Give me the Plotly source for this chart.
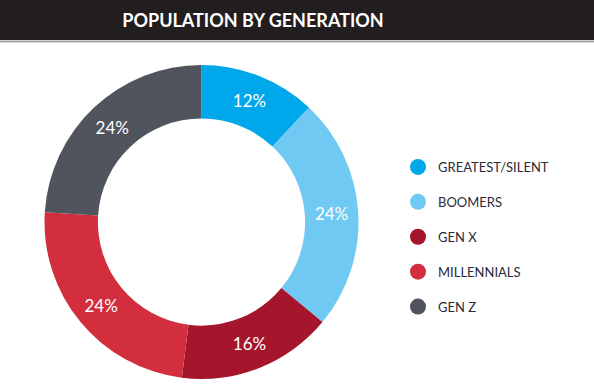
import plotly.graph_objects as go

labels = ["GREATEST/SILENT", "BOOMERS", "GEN X", "MILLENNIALS", "GEN Z"]
values = [12, 24, 16, 24, 24]
colors = ["#00a7ea", "#6fc9f3", "#a5152c", "#d22e3e", "#50545d"]
title_text = "POPULATION BY GENERATION"

W, H = 594, 384

fig = go.Figure()
fig.add_trace(go.Pie(
    labels=labels, values=values, sort=False, direction="clockwise", rotation=0,
    hole=0.66, marker=dict(colors=colors, line=dict(width=0)),
    texttemplate="%{value}%", textposition="inside", insidetextorientation="horizontal",
    insidetextfont=dict(color="white", size=17, family="Lato"),
    showlegend=False, hoverinfo="skip",
    domain=dict(x=[44.5 / W, 358.5 / W], y=[5 / H, 319 / H]),
))
for lab, col in zip(labels, colors):
    fig.add_trace(go.Scatter(
        x=[None], y=[None], mode="markers", name=lab, legendgroup=lab,
        marker=dict(size=16, color=col, symbol="circle"),
    ))

fig.update_layout(
    width=W, height=H, margin=dict(l=0, r=0, t=0, b=0),
    paper_bgcolor="white", plot_bgcolor="white",
    xaxis=dict(visible=False), yaxis=dict(visible=False),
    title=dict(text="<b>" + title_text + "</b>", x=253 / W, y=1 - 21 / H,
               xanchor="center", yanchor="middle",
               font=dict(color="white", size=18, family="Lato")),
    legend=dict(x=398 / W, y=1 - 152 / H, xanchor="left", yanchor="top",
                font=dict(size=13, color="#2a2a38", family="Lato"),
                tracegroupgap=15, bgcolor="rgba(0,0,0,0)"),
    shapes=[
        dict(type="rect", xref="paper", yref="paper", x0=0, x1=1, y0=1 - 40 / H, y1=1,
             fillcolor="#221e1f", line=dict(width=0), layer="below"),
        dict(type="line", xref="paper", yref="paper", x0=0, x1=1,
             y0=1 - 41.5 / H, y1=1 - 41.5 / H, line=dict(color="#a3a3a3", width=2),
             layer="below"),
    ],
)

fig.write_html("out.html", config={"displayModeBar": False},
               post_script="document.body.style.margin='0';")
